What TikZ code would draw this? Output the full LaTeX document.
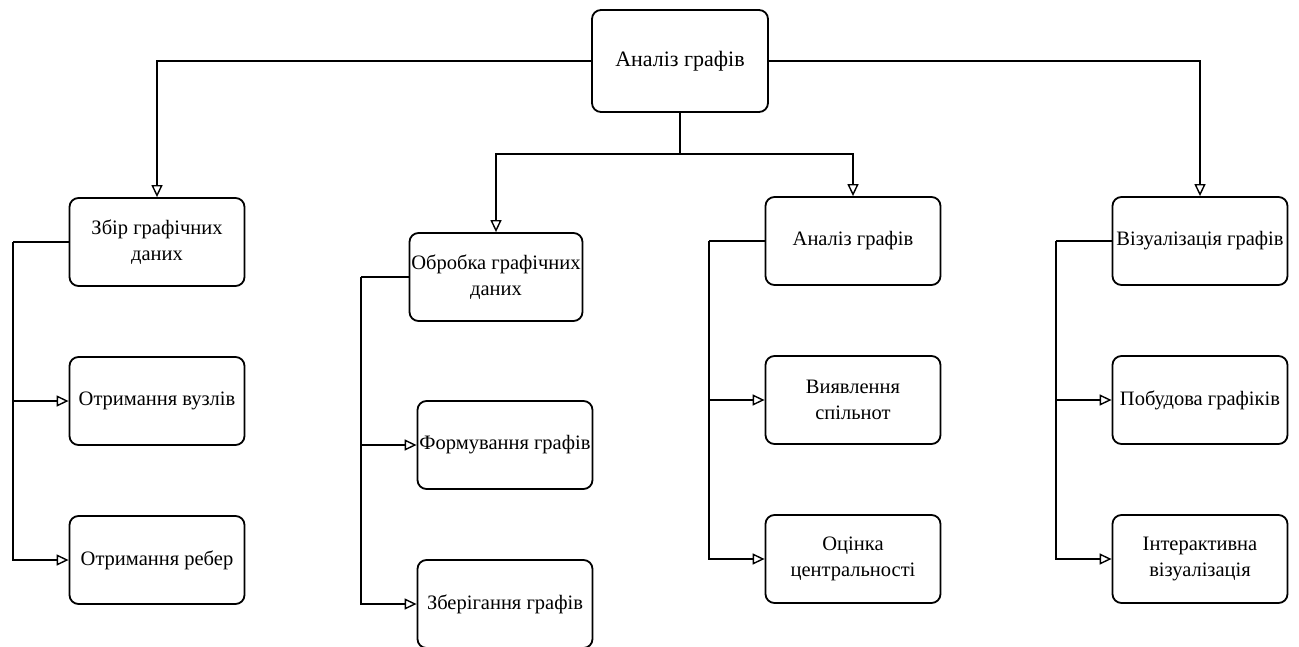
\documentclass[tikz,border=0pt]{standalone}
\usepackage{fontspec}
\setmainfont{Liberation Serif}
\usetikzlibrary{positioning,arrows.meta,calc}
\tikzset{
    on grid,
    node distance=159pt,
    block/.style = {
        draw,
        shape=rectangle,
        rounded corners=9pt,
        align=center,
        minimum height=88pt,
        minimum width=175pt,
        inner sep=1pt,
        line width=1.8pt,
        font=\fontsize{20.5}{26}\selectfont
    },
    rootblock/.style = {
        block,
        minimum height=102pt,
        minimum width=176pt,
        font=\fontsize{22}{26}\selectfont
    },
    link/.style = {
        draw,
        line width=1.6pt
    },
    >={Triangle[open,length=12pt,width=11pt,line width=1.4pt]},
}

\begin{document}
\begin{tikzpicture}[x=1pt,y=-1pt]
        \useasboundingbox (0,0) rectangle (1299,647);

        \node[rootblock] (root) at (680,61) {Аналіз графів};

        \node[block] (collect) at (157,242) {Збір графічних\\даних};
        \node[block, below of=collect] (nodes) {Отримання вузлів};
        \node[block, below of=nodes] (edges) {Отримання ребер};

        \node[block, minimum width=173pt] (process) at (496,277) {Обробка графічних\\даних};
        \node[block, below of=process, node distance=168pt, xshift=9pt] (forming) {Формування графів};
        \node[block, below of=forming] (storing) {Зберігання графів};

        \node[block] (analysis) at (853,241) {Аналіз графів};
        \node[block, below of=analysis] (communities) {Виявлення\\спільнот};
        \node[block, below of=communities] (centrality) {Оцінка\\центральності};

        \node[block] (visual) at (1200,241) {Візуалізація графів};
        \node[block, below of=visual] (plots) {Побудова графіків};
        \node[block, below of=plots] (interactive) {Інтерактивна\\візуалізація};

        % top level
        \path[link, ->] (root.west) -| (collect.north);
        \path[link, ->] (root.east) -| (visual.north);
        \coordinate (split) at (680,154);
        \path[link, -] (root.south) -- (split);
        \path[link, ->] (split) -| (process.north);
        \path[link, ->] (split) -| (analysis.north);

        % trunks
        \coordinate (trunk0) at (13,242);
        \coordinate (trunk1) at (361,277);
        \coordinate (trunk2) at (709,241);
        \coordinate (trunk3) at (1056,241);

        \path[link, -] (collect.west) -- (trunk0);
        \path[link, ->] (trunk0) |- (nodes.west);
        \path[link, ->] (trunk0) |- (edges.west);

        \path[link, -] (process.west) -- (trunk1);
        \path[link, ->] (trunk1) |- (forming.west);
        \path[link, ->] (trunk1) |- (storing.west);

        \path[link, -] (analysis.west) -- (trunk2);
        \path[link, ->] (trunk2) |- (communities.west);
        \path[link, ->] (trunk2) |- (centrality.west);

        \path[link, -] (visual.west) -- (trunk3);
        \path[link, ->] (trunk3) |- (plots.west);
        \path[link, ->] (trunk3) |- (interactive.west);

    \end{tikzpicture}
\end{document}
